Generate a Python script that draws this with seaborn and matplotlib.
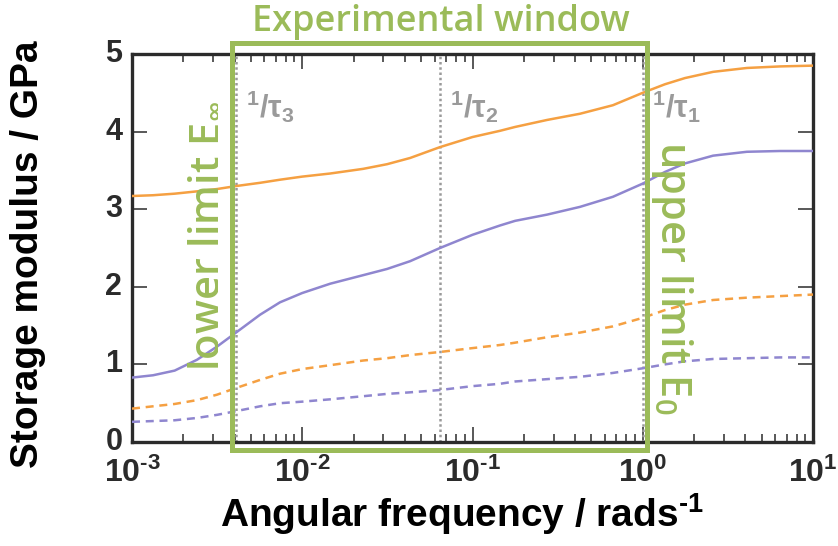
import numpy as np
import pandas as pd
import matplotlib
matplotlib.use("Agg")
import matplotlib.pyplot as plt
import seaborn as sns
from matplotlib.patches import Rectangle
from matplotlib.ticker import FuncFormatter, LogLocator, NullFormatter, FixedLocator

# ---------------- data ----------------
omega = [1.0e-3, 1.33e-3, 1.78e-3, 2.41e-3, 3.16e-3, 4.14e-3, 5.65e-3, 7.4e-3,
         1.0e-2, 1.46e-2, 2.28e-2, 3.15e-2, 4.3e-2, 6.44e-2, 0.1, 0.145, 0.178,
         0.274, 0.428, 0.668, 1.0, 1.35, 1.77, 2.59, 4.09, 6.4, 10.0]

orange_solid = [3.17, 3.18, 3.20, 3.23, 3.26, 3.30, 3.34, 3.38, 3.42, 3.46, 3.52,
                3.58, 3.66, 3.80, 3.93, 4.01, 4.06, 4.15, 4.23, 4.34, 4.50, 4.61,
                4.69, 4.77, 4.82, 4.84, 4.85]
purple_solid = [0.83, 0.86, 0.92, 1.06, 1.23, 1.42, 1.64, 1.80, 1.92, 2.04, 2.15,
                2.23, 2.33, 2.50, 2.67, 2.79, 2.85, 2.93, 3.03, 3.16, 3.33, 3.48,
                3.59, 3.69, 3.74, 3.75, 3.75]
orange_dashed = [0.43, 0.46, 0.49, 0.54, 0.61, 0.70, 0.80, 0.88, 0.94, 0.99, 1.05,
                 1.08, 1.12, 1.16, 1.21, 1.25, 1.28, 1.35, 1.41, 1.49, 1.60, 1.70,
                 1.77, 1.83, 1.86, 1.88, 1.90]
purple_dashed = [0.26, 0.27, 0.28, 0.31, 0.35, 0.40, 0.46, 0.50, 0.52, 0.55, 0.59,
                 0.62, 0.64, 0.67, 0.72, 0.75, 0.78, 0.81, 0.84, 0.89, 0.95, 1.00,
                 1.04, 1.07, 1.08, 1.09, 1.09]

tau_inv = [4.1e-3, 6.44e-2, 1.0]
tau_labels = [r"$^\mathregular{1}$/τ$_\mathregular{3}$",
              r"$^\mathregular{1}$/τ$_\mathregular{2}$",
              r"$^\mathregular{1}$/τ$_\mathregular{1}$"]
window_x = [3.87e-3, 1.06]
window_y = [-0.10, 5.14]

x_ticks = [1e-3, 1e-2, 1e-1, 1e0, 1e1]
y_ticks = [0, 1, 2, 3, 4, 5]

title_text = "Experimental window"
lower_text = r"lower limit E$_\mathregular{\infty}$"
upper_text = r"upper limit E$_\mathregular{0}$"
xlabel_text = "Angular frequency / rads$^\\mathregular{\u20101}$"
ylabel_text = "Storage modulus / GPa"

# ---------------- style ----------------
ORANGE = "#F5A042"
PURPLE = "#8F86CF"
GREEN = "#9BBB59"
GREY = "#9A9A9A"
DARK = "#2b2b2b"

sns.set_theme(style="white")
plt.rcParams["font.family"] = ["Liberation Sans", "DejaVu Sans"]
plt.rcParams["mathtext.fontset"] = "custom"
plt.rcParams["mathtext.rm"] = "Liberation Sans:bold"
plt.rcParams["mathtext.it"] = "Liberation Sans:bold"
plt.rcParams["mathtext.bf"] = "Liberation Sans:bold"

W, H = 838, 546
fig = plt.figure(figsize=(W / 100, H / 100), dpi=100)
ax = fig.add_axes([132 / W, 1 - 442 / H, (813 - 132) / W, (442 - 54) / H])

series = [
    ("orange solid", orange_solid, ORANGE, "-"),
    ("purple solid", purple_solid, PURPLE, "-"),
    ("orange dashed", orange_dashed, ORANGE, (0, (3.2, 2.3))),
    ("purple dashed", purple_dashed, PURPLE, (0, (3.2, 2.3))),
]
for name, vals, col, ls in series:
    df = pd.DataFrame({"omega": omega, "E": vals})
    sns.lineplot(data=df, x="omega", y="E", ax=ax, color=col, linewidth=1.8,
                 linestyle=ls, sort=False, legend=False, zorder=3)

for xv in tau_inv:
    ax.axvline(xv, color=GREY, linewidth=1.8, linestyle=(0, (1, 1.1)), zorder=2)

ax.set_xscale("log")
ax.set_xlim(1e-3, 10)
ax.set_ylim(0, 5)
ax.xaxis.set_major_locator(FixedLocator(x_ticks))
ax.xaxis.set_minor_locator(LogLocator(base=10, subs=np.arange(2, 10), numticks=20))
ax.xaxis.set_minor_formatter(NullFormatter())


def xfmt(v, _):
    e = int(round(np.log10(v)))
    s = ("\u2010%d" % abs(e)) if e < 0 else "%d" % e
    return r"$\mathregular{10^{%s}}$" % s


ax.xaxis.set_major_formatter(FuncFormatter(xfmt))
ax.yaxis.set_major_locator(FixedLocator(y_ticks))
ax.set_xlabel("")
ax.set_ylabel("")

for s in ax.spines.values():
    s.set_linewidth(2.4)
    s.set_color(DARK)
ax.tick_params(which="both", direction="in", top=True, right=True, bottom=True, left=True,
               color=DARK)
ax.tick_params(which="major", length=10.5, width=1.1)
ax.tick_params(which="minor", length=5.5, width=1.1)
ax.tick_params(axis="x", which="major", labelsize=23, pad=11, labelcolor=DARK)
ax.tick_params(axis="y", which="major", labelsize=22, pad=7, labelcolor=DARK)
for lab in ax.get_xticklabels() + ax.get_yticklabels():
    lab.set_fontweight("bold")
for lab in ax.get_yticklabels():
    lab.set_verticalalignment("center")

# experimental window
rect = Rectangle((window_x[0], window_y[0]), window_x[1] - window_x[0],
                 window_y[1] - window_y[0], fill=False, edgecolor=GREEN,
                 linewidth=3.6, clip_on=False, zorder=6, joinstyle="miter")
ax.add_patch(rect)

# tau labels
for xv, lab in zip(tau_inv, tau_labels):
    ax.annotate(lab, xy=(xv, 5), xycoords="data", xytext=(7, -46),
                textcoords="offset points", ha="left", va="baseline",
                color=GREY, fontsize=22, fontweight="bold", family="Liberation Sans",
                zorder=7)

green_font = dict(family=["Open Sans", "DejaVu Sans"], color=GREEN, fontweight="semibold")
fig.text(441 / W, 1 - 31 / H, title_text, ha="center", va="baseline",
         fontsize=26, **green_font)
fig.text(204 / W, 1 - 236 / H, lower_text, ha="center", va="center", rotation=90,
         fontsize=30, zorder=8, **green_font)
fig.text(672 / W, 1 - 278 / H, upper_text, ha="center", va="center", rotation=-90,
         fontsize=30, zorder=8, **green_font)

fig.text(462 / W, 1 - 527 / H, xlabel_text, ha="center", va="baseline",
         fontsize=28, fontweight="bold", color="black")
fig.text(28 / W, 1 - 254 / H, ylabel_text, ha="center", va="center", rotation=90,
         fontsize=28, fontweight="bold", color="black")

fig.savefig("out.png", dpi=100)
